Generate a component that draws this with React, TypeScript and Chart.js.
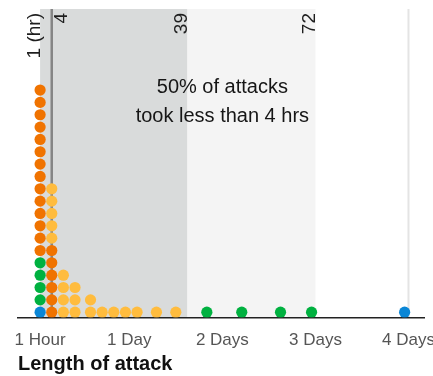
import { useEffect, useRef } from "react";
import { Chart, registerables } from "chart.js";

Chart.register(...registerables);

const FONT = "'Liberation Sans', Arial, sans-serif";

// Columns of dots: duration in hours, and how many attacks of each colour sit in that column
const columnHours = [1, 4, 7, 10, 14, 17, 20, 23, 26, 31, 36, 44, 53, 63, 71, 95];
const blueCounts = [1, 0, 0, 0, 0, 0, 0, 0, 0, 0, 0, 0, 0, 0, 0, 1];
const greenCounts = [4, 0, 0, 0, 0, 0, 0, 0, 0, 0, 0, 1, 1, 1, 1, 0];
const orangeCounts = [14, 6, 0, 0, 0, 0, 0, 0, 0, 0, 0, 0, 0, 0, 0, 0];
const yellowCounts = [0, 5, 4, 3, 2, 1, 1, 1, 1, 1, 1, 0, 0, 0, 0, 0];

const seriesColors = ["#0a86d6", "#00b140", "#f07300", "#ffbc3e"];

const tickValues = [1, 24, 48, 72, 96];
const tickLabels = ["1 Hour", "1 Day", "2 Days", "3 Days", "4 Days"];

const markerHours = [1, 4, 39, 72];
const markerLabels = ["1 (hr)", "4", "39", "72"];

const darkBand = [1, 39];
const lightBand = [39, 72];
const fourDayLine = 96;
const medianLine = 4;

const annotationLines = ["50% of attacks", "took less than 4 hrs"];
const axisTitle = "Length of attack";

function buildDatasets() {
  const allCounts = [blueCounts, greenCounts, orangeCounts, yellowCounts];
  const stackHeight = columnHours.map(() => 0);
  return allCounts.map((counts, s) => {
    const pts: { x: number; y: number }[] = [];
    counts.forEach((n, c) => {
      for (let k = 0; k < n; k++) {
        pts.push({ x: columnHours[c], y: stackHeight[c] + 0.43 });
        stackHeight[c] += 1;
      }
    });
    return {
      data: pts,
      backgroundColor: seriesColors[s],
      borderWidth: 0,
      pointRadius: 5.6,
      pointHoverRadius: 5.6,
    };
  });
}

const overlayPlugin = {
  id: "overlay",
  beforeDraw(chart: any) {
    const { ctx, chartArea: ca, scales } = chart;
    const x = scales.x;
    const px = (v: number) => x.getPixelForValue(v);
    ctx.save();
    ctx.fillStyle = "#d9dbdb";
    ctx.fillRect(px(darkBand[0]), ca.top, px(darkBand[1]) - px(darkBand[0]), ca.bottom - ca.top);
    ctx.fillStyle = "#f4f4f4";
    ctx.fillRect(px(lightBand[0]), ca.top, px(lightBand[1]) - px(lightBand[0]), ca.bottom - ca.top);
    ctx.strokeStyle = "#e4e4e4";
    ctx.lineWidth = 2;
    ctx.beginPath();
    ctx.moveTo(px(fourDayLine), ca.top);
    ctx.lineTo(px(fourDayLine), ca.bottom);
    ctx.stroke();
    ctx.strokeStyle = "#858585";
    ctx.lineWidth = 2.5;
    ctx.beginPath();
    ctx.moveTo(px(medianLine), ca.top);
    ctx.lineTo(px(medianLine), ca.bottom);
    ctx.stroke();
    ctx.restore();
  },
  afterDraw(chart: any) {
    const { ctx, chartArea: ca, scales } = chart;
    const x = scales.x;
    const y = scales.y;
    ctx.save();
    // rotated marker labels
    ctx.fillStyle = "#1e1e1e";
    ctx.font = `19px ${FONT}`;
    ctx.textAlign = "right";
    ctx.textBaseline = "alphabetic";
    markerHours.forEach((h, i) => {
      let bx = x.getPixelForValue(h);
      if (h === medianLine) bx += 15;
      ctx.save();
      ctx.translate(bx, ca.top + 4);
      ctx.rotate(-Math.PI / 2);
      ctx.fillText(markerLabels[i], 0, 0);
      ctx.restore();
    });
    // annotation
    ctx.font = `20px ${FONT}`;
    ctx.textAlign = "center";
    ctx.textBaseline = "middle";
    ctx.fillStyle = "#161616";
    const cx = x.getPixelForValue(48);
    ctx.fillText(annotationLines[0], cx, y.getPixelForValue(18.65));
    ctx.fillText(annotationLines[1], cx, y.getPixelForValue(16.3));
    ctx.restore();
  },
};

export default function App() {
  const ref = useRef<HTMLCanvasElement | null>(null);
  useEffect(() => {
    if (!ref.current) return;
    Chart.defaults.font.family = FONT;
    const chart = new Chart(ref.current, {
      type: "scatter",
      data: { datasets: buildDatasets() as any },
      options: {
        animation: false,
        responsive: true,
        maintainAspectRatio: false,
        layout: { padding: { left: 18, right: 9, top: 9, bottom: 0 } },
        plugins: { legend: { display: false }, tooltip: { enabled: false } },
        events: [],
        scales: {
          x: {
            type: "linear",
            min: -4.7,
            max: 100,
            grid: { display: false, drawTicks: false },
            border: { display: true, color: "#222", width: 1.5 },
            afterBuildTicks: (s: any) => {
              s.ticks = tickValues.map((v) => ({ value: v }));
            },
            afterFit: (s: any) => {
              s.paddingLeft = 0;
              s.paddingRight = 0;
              s.height = 58.5;
            },
            ticks: {
              autoSkip: false,
              maxRotation: 0,
              padding: 13,
              color: "#555",
              font: { family: FONT, size: 17 },
              callback: (_v: any, i: number) => tickLabels[i] ?? "",
            },
            title: {
              display: true,
              text: axisTitle,
              align: "start",
              color: "#111",
              font: { family: FONT, size: 20, weight: "bold" },
              padding: { top: 0, bottom: 0 },
            },
          },
          y: { min: 0, max: 25, display: false },
        },
      },
      plugins: [overlayPlugin],
    });
    return () => chart.destroy();
  }, []);
  return (
    <div style={{ position: "absolute", left: 0, top: 0, width: 433, height: 376 }}>
      <canvas ref={ref} />
    </div>
  );
}
